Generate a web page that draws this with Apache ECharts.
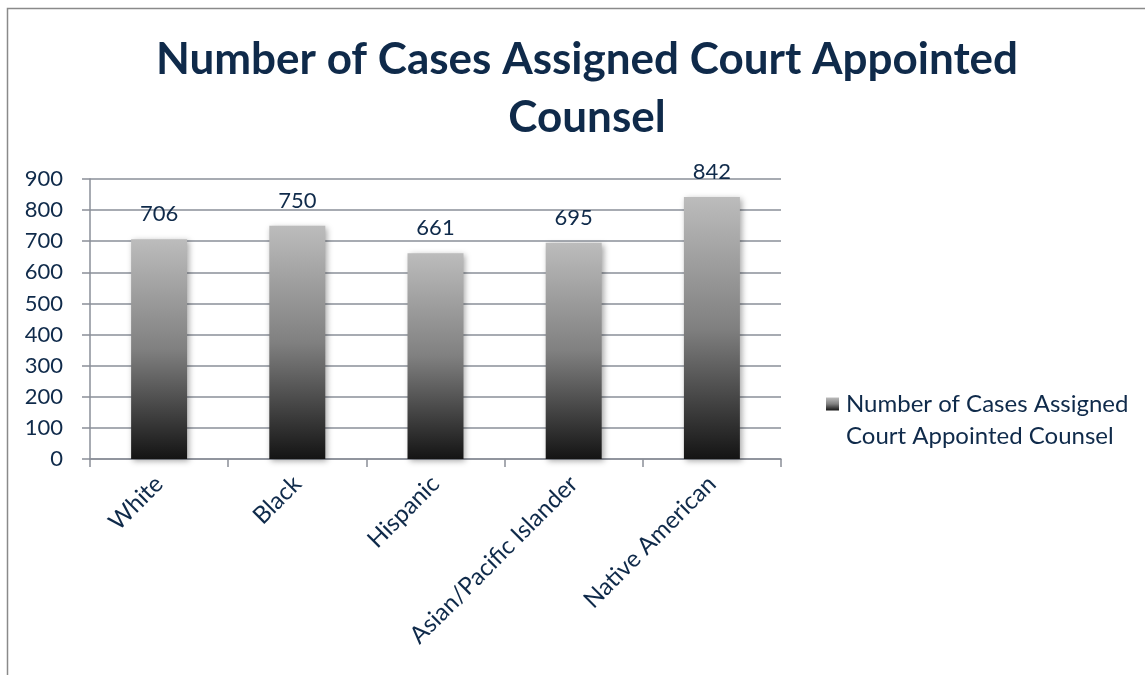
<!DOCTYPE html>
<html>
<head>
<meta charset="utf-8">
<script src="https://cdn.jsdelivr.net/npm/echarts@6/dist/echarts.min.js"></script>
<style>html,body{margin:0;padding:0;background:#fff}#c{width:1145px;height:675px}</style>
</head>
<body>
<div id="c"></div>
<script>
const titleText = 'Number of Cases Assigned Court Appointed\nCounsel';
const seriesName = 'Number of Cases Assigned Court Appointed Counsel';
const legendLines = ['Number of Cases Assigned', 'Court Appointed Counsel'];
const categories = ['White', 'Black', 'Hispanic', 'Asian/Pacific Islander', 'Native American'];
const values = [706, 750, 661, 695, 842];
const yTicks = { min: 0, max: 900, interval: 100 };

const navy = '#0f2a4a';
const font = 'Lato';
const chart = echarts.init(document.getElementById('c'));
const grad = new echarts.graphic.LinearGradient(0, 0, 0, 1, [
  { offset: 0, color: '#bcbcbc' },
  { offset: 0.5, color: '#808080' },
  { offset: 1, color: '#141414' }
]);
chart.setOption({
  animation: false,
  backgroundColor: '#fff',
  graphic: [{
    type: 'rect', shape: { x: 7.5, y: 8.5, width: 1160, height: 700 },
    style: { fill: 'none', stroke: '#8a8a8a', lineWidth: 1.5 }, silent: true
  }],
  title: {
    text: titleText, left: 582, top: 26, textAlign: 'center',
    textStyle: { fontFamily: font, fontWeight: 'bold', fontSize: 44, color: navy, lineHeight: 58 }
  },
  legend: {
    left: 821, top: 351, orient: 'vertical', icon: 'rect', itemWidth: 13, itemHeight: 13, itemGap: 10,
    formatter: () => '\n' + legendLines.join('\n'),
    textStyle: { fontFamily: font, fontSize: 24, color: navy, lineHeight: 32, padding: [0, 0, 0, 2] }
  },
  grid: { left: 90, right: 364, top: 179, bottom: 216, containLabel: false },
  xAxis: {
    type: 'category', data: categories,
    axisLine: { lineStyle: { color: '#8a8f98', width: 1.5 } },
    axisTick: { show: true, length: 8, lineStyle: { color: '#8a8f98', width: 1.5 } },
    axisLabel: { rotate: 45, fontFamily: font, fontSize: 24, color: navy, margin: 21, interval: 0 }
  },
  yAxis: {
    type: 'value', min: yTicks.min, max: yTicks.max, interval: yTicks.interval,
    axisLine: { show: true, lineStyle: { color: '#8a8f98', width: 1.5 } },
    axisTick: { show: true, length: 8, lineStyle: { color: '#8a8f98', width: 1.5 } },
    splitLine: { lineStyle: { color: '#8a8f98', width: 1.5 } },
    axisLabel: { fontFamily: font, fontSize: 22, color: navy, margin: 27 }
  },
  series: [{
    name: seriesName, type: 'bar', data: values, barWidth: '40.5%',
    itemStyle: { color: grad, shadowBlur: 6, shadowColor: 'rgba(0,0,0,0.35)', shadowOffsetX: 2, shadowOffsetY: 2 },
    label: { show: true, position: 'top', distance: 14, fontFamily: font, fontSize: 22, color: navy }
  }]
});
</script>
</body>
</html>
